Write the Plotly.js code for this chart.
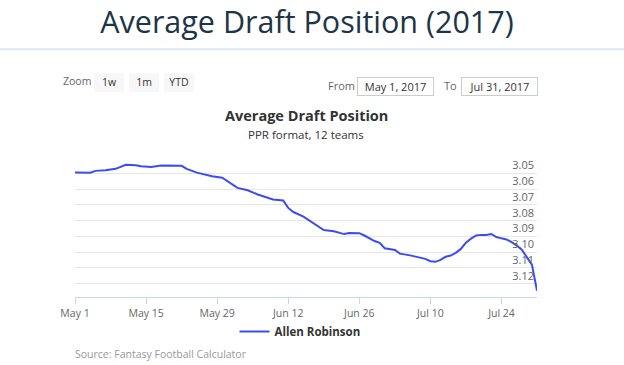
<!DOCTYPE html>
<html>
<head>
<meta charset="utf-8">
<script src="https://cdn.plot.ly/plotly-3.0.1.min.js"></script>
<style>
html,body{margin:0;padding:0;background:#fff;}
#chart{width:624px;height:365px;}
</style>
</head>
<body>
<div id="chart"></div>
<script>
// Data
const dates = [
  "2017-05-01","2017-05-04","2017-05-05","2017-05-07","2017-05-09","2017-05-11","2017-05-13",
  "2017-05-14","2017-05-16","2017-05-18","2017-05-22","2017-05-23","2017-05-25","2017-05-26",
  "2017-05-28","2017-05-30","2017-06-02","2017-06-04","2017-06-06","2017-06-09","2017-06-11",
  "2017-06-12","2017-06-13","2017-06-15","2017-06-17","2017-06-19","2017-06-21","2017-06-23",
  "2017-06-24","2017-06-26","2017-06-27","2017-06-29","2017-06-30","2017-07-01","2017-07-03",
  "2017-07-04","2017-07-06","2017-07-08","2017-07-09","2017-07-10","2017-07-11","2017-07-12",
  "2017-07-13","2017-07-14","2017-07-15","2017-07-16","2017-07-17","2017-07-18","2017-07-19",
  "2017-07-20","2017-07-21","2017-07-22","2017-07-23","2017-07-24","2017-07-25","2017-07-26",
  "2017-07-27","2017-07-28","2017-07-29","2017-07-30","2017-07-31"
];
const adp = [
  3.0496,3.0497,3.0485,3.0481,3.0472,3.0446,3.0449,
  3.0455,3.0461,3.0451,3.0453,3.0472,3.0496,3.0504,
  3.0519,3.0528,3.0593,3.0608,3.0635,3.0667,3.0673,
  3.0720,3.0746,3.0775,3.0820,3.0860,3.0868,3.0886,
  3.0879,3.0880,3.0895,3.0930,3.0942,3.0976,3.0987,
  3.1010,3.1021,3.1037,3.1043,3.1058,3.1062,3.1050,
  3.1030,3.1022,3.1005,3.0980,3.0940,3.0915,3.0895,
  3.0891,3.0891,3.0885,3.0905,3.0913,3.0920,3.0937,
  3.0958,3.0985,3.1030,3.1080,3.1245
];
const seriesName = "Allen Robinson";
const xTickVals = ["2017-05-01","2017-05-15","2017-05-29","2017-06-12","2017-06-26","2017-07-10","2017-07-24"];
const yTickVals = [3.04,3.05,3.06,3.07,3.08,3.09,3.10,3.11,3.12];
const yTickText = ["","3.05","3.06","3.07","3.08","3.09","3.10","3.11","3.12"];
const pageTitle = "Average Draft Position (2017)";
const chartTitle = "Average Draft Position";
const chartSubtitle = "PPR format, 12 teams";
const sourceText = "Source: Fantasy Football Calculator";
const fromDate = "May 1, 2017";
const toDate = "Jul 31, 2017";

const trace = {
  x: dates, y: adp, type: "scatter", mode: "lines", name: seriesName,
  line: {color: "#3d4cf0", width: 2},
  hoverinfo: "x+y"
};

const gridC = "#e6e6e6";
const axisC = "#ccd6eb";
const lab = "#666666";

const layout = {
  width: 624, height: 365,
  margin: {l: 75, r: 87, t: 157, b: 68, pad: 0},
  paper_bgcolor: "#ffffff", plot_bgcolor: "#ffffff",
  font: {family: "Open Sans, sans-serif", size: 11, color: lab},
  title: {
    text: pageTitle,
    font: {family: "Open Sans", size: 30.5, color: "#1d3547"},
    xref: "container", x: 0.492, xanchor: "center",
    yref: "container", y: 1 - 22/365, yanchor: "middle"
  },
  showlegend: true,
  legend: {
    orientation: "h", x: 0.487, xanchor: "center", y: -0.246, yanchor: "middle",
    font: {family: "Open Sans", size: 11.5, color: "#333333", weight: "bold"},
    bgcolor: "rgba(0,0,0,0)"
  },
  xaxis: {
    type: "date",
    range: ["2017-05-01", "2017-07-31"],
    tickvals: xTickVals,
    tickformat: "%b %-d",
    showgrid: false, zeroline: false,
    showline: true, linecolor: axisC, linewidth: 1,
    ticks: "outside", ticklen: 6, tickcolor: axisC, tickwidth: 1,
    tickfont: {family: "Open Sans", size: 10.5, color: lab},
    fixedrange: true,
    rangeselector: {
      x: 0.042, xanchor: "left", y: 1.6, yanchor: "top",
      bgcolor: "#f7f7f7", activecolor: "#e6ebf5",
      bordercolor: "#f7f7f7", borderwidth: 0,
      font: {family: "Open Sans", size: 10.5, color: "#333333"},
      buttons: [
        {count: 7, label: "1w", step: "day", stepmode: "backward"},
        {count: 1, label: "1m", step: "month", stepmode: "backward"},
        {count: 1, label: "YTD", step: "year", stepmode: "todate"}
      ]
    }
  },
  yaxis: {
    range: [3.1285, 3.0397],
    side: "right",
    tickvals: yTickVals, ticktext: yTickText,
    ticklabelposition: "inside top",
    ticks: "",
    showgrid: true, gridcolor: gridC, gridwidth: 1,
    zeroline: false, showline: false,
    tickfont: {family: "Open Sans", size: 11, color: lab},
    fixedrange: true
  },
  shapes: [
    {type: "line", xref: "paper", yref: "paper",
     x0: -75/462, x1: 549/462, y0: (296.7-50)/139.4, y1: (296.7-50)/139.4,
     line: {color: "#dde8f0", width: 2}}
  ],
  annotations: [
    {text: chartTitle, xref: "paper", yref: "paper", x: 0.5, y: (296.7-116)/139.4,
     xanchor: "center", yanchor: "middle", showarrow: false,
     font: {family: "Open Sans", size: 14.5, color: "#333333", weight: "bold"}},
    {text: chartSubtitle, xref: "paper", yref: "paper", x: 0.5, y: (296.7-135)/139.4,
     xanchor: "center", yanchor: "middle", showarrow: false,
     font: {family: "Open Sans", size: 11.5, color: "#333333"}},
    {text: sourceText, xref: "paper", yref: "paper", x: -0.004, y: (296.7-353)/139.4,
     xanchor: "left", yanchor: "middle", showarrow: false,
     font: {family: "Open Sans", size: 10.5, color: "#999999"}},
    {text: "Zoom", xref: "paper", yref: "paper", x: (61-75)/462, y: (296.7-82)/139.4,
     xanchor: "left", yanchor: "middle", showarrow: false,
     font: {family: "Open Sans", size: 10.5, color: lab}},
    {text: "From", xref: "paper", yref: "paper", x: (326-75)/462, y: (296.7-86)/139.4,
     xanchor: "left", yanchor: "middle", showarrow: false,
     font: {family: "Open Sans", size: 11, color: lab}},
    {text: fromDate, xref: "paper", yref: "paper", x: (395-75)/462, y: (296.7-87)/139.4,
     xanchor: "center", yanchor: "middle", showarrow: false,
     width: 73, height: 15, borderpad: 1, bordercolor: "#cccccc", borderwidth: 1, bgcolor: "#ffffff",
     font: {family: "Open Sans", size: 11, color: "#333333"}},
    {text: "To", xref: "paper", yref: "paper", x: (442-75)/462, y: (296.7-86)/139.4,
     xanchor: "left", yanchor: "middle", showarrow: false,
     font: {family: "Open Sans", size: 11, color: lab}},
    {text: toDate, xref: "paper", yref: "paper", x: (499-75)/462, y: (296.7-87)/139.4,
     xanchor: "center", yanchor: "middle", showarrow: false,
     width: 73, height: 15, borderpad: 1, bordercolor: "#cccccc", borderwidth: 1, bgcolor: "#ffffff",
     font: {family: "Open Sans", size: 11, color: "#333333"}}
  ]
};

Plotly.newPlot("chart", [trace], layout, {displayModeBar: false});
</script>
</body>
</html>
